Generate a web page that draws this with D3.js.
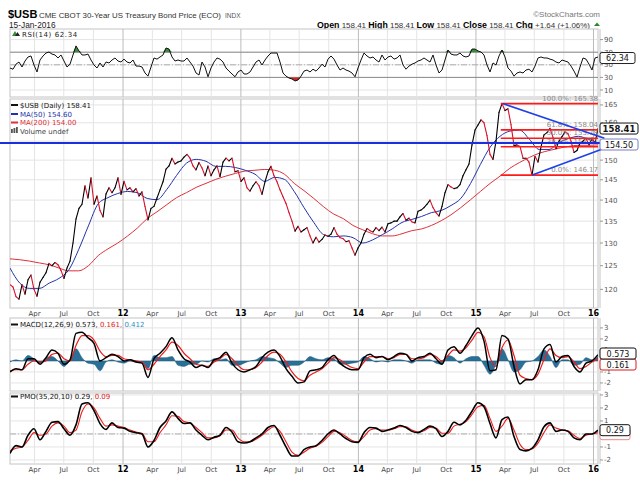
<!DOCTYPE html>
<html>
<head>
<meta charset="utf-8">
<script src="https://d3js.org/d3.v7.min.js"></script>
<style>
  body { margin: 0; background: #fff; }
  text { font-family: "DejaVu Sans", Verdana, sans-serif; }
  .hd { font-family: "Liberation Sans", Arial, sans-serif; }
</style>
</head>
<body>
<svg id="chart" width="640" height="490"></svg>
<script>
// ---- data ----
// price closes, evenly spaced 15-Jan-2011 .. 15-Jan-2016
const priceVals = [
  121.0,120.5,118.5,118.0,121.0,119.0,122.0,123.0,120.0,118.6,
  121.5,122.5,123.5,125.5,125.0,125.7,125.2,124.0,122.3,124.5,
  126.0,130.0,135.5,138.0,139.0,143.5,140.5,145.5,139.0,141.0,
  137.5,136.0,141.5,143.0,141.8,143.0,145.5,141.4,144.6,142.5,
  143.0,142.0,142.8,141.0,142.0,138.5,135.3,138.0,138.5,140.5,
  142.5,144.5,147.7,148.5,150.5,149.0,149.5,149.8,150.8,151.5,
  150.5,148.5,147.5,149.4,148.0,146.0,148.5,146.0,147.5,148.5,
  145.8,149.5,150.5,149.8,150.5,147.0,147.3,144.6,145.5,143.0,
  142.2,143.5,144.5,143.5,141.4,144.5,147.0,148.4,146.0,144.5,
  142.5,140.8,139.2,137.0,135.0,132.7,133.8,132.5,133.0,133.5,
  131.6,130.0,131.3,130.2,130.8,131.8,131.5,132.0,133.5,132.0,
  131.2,131.0,130.3,130.5,128.9,127.3,128.9,130.0,132.0,133.3,
  132.8,132.5,133.5,132.8,133.6,132.5,134.4,134.6,135.0,135.0,
  136.0,136.8,135.2,135.7,134.8,134.6,137.3,137.6,138.2,139.0,
  140.0,138.2,137.0,136.2,138.5,141.8,143.8,143.2,142.8,143.0,
  143.8,146.0,147.5,149.0,154.0,158.0,159.4,160.8,160.0,156.5,
  151.5,150.2,155.0,162.9,165.38,163.4,163.9,159.5,153.8,154.0,
  153.6,150.5,150.5,149.5,146.17,151.0,149.5,153.5,156.7,157.3,
  158.5,156.0,153.0,155.0,156.2,157.5,157.0,155.0,152.0,152.5,
  154.5,155.0,155.8,154.0,155.8,154.5,158.41
];
// monthly moving averages
const ma50Vals = [
  124.5,121.3,120.2,120.2,121.3,122.3,124.1,128.5,133.9,139.1,
  140.6,141.6,142.1,141.8,140.4,140.1,142.6,146.1,149.2,150.2,
  149.7,148.4,148.4,148.1,147.4,146.4,144.6,145.6,145.1,142.1,
  138.2,134.7,131.9,131.4,131.6,131.2,130.0,130.7,131.9,133.2,
  134.7,135.4,136.1,137.0,137.5,138.7,140.4,144.1,148.9,153.4,
  156.3,157.7,158.0,155.5,152.8,152.8,154.6,155.7,156.3,155.5,
  154.6
];
const ma200Vals = [
  126.5,126.3,126.0,125.6,125.2,124.5,123.9,123.9,125.0,127.2,
  128.7,130.0,131.6,133.4,135.6,137.2,138.9,140.6,141.8,143.1,
  144.1,145.1,145.9,146.6,147.2,147.4,147.6,147.4,146.4,144.1,
  142.3,140.4,138.4,136.7,135.6,134.0,133.0,132.1,131.6,131.6,
  132.1,132.8,133.2,134.0,135.1,136.5,138.2,140.1,142.1,144.1,
  145.9,147.9,149.4,150.7,151.8,152.5,153.1,153.6,153.9,153.9,
  154.0
];
const rsiVals = [
  44.9,43,51,54.4,46.5,56,62.4,64,49.7,38.6,
  57.6,64,68.7,70.3,67,65.6,60.8,65.6,56,46.5,
  51,65.6,80,72,65.6,65.6,67,57.6,49.7,44.9,
  52.9,46.5,54.4,52.9,57.6,60.8,56,54.4,59,54.4,
  52.9,57.6,48,48,46.5,37,32,46.5,60.8,59,
  62.4,65.6,76.7,75,62.4,56,57.6,56,56,60.8,
  54.4,48,37,33.8,54.4,46.5,31,44.9,54.4,60.8,
  59,54.4,44.9,40,35.4,31,38.6,41.7,35.4,35.4,
  38.6,46.5,54.4,57.6,49.7,57.6,64,68.7,68.7,68.7,
  54.4,37,32,29,27.5,24.3,25.9,32,40,41.7,
  38.6,43,40,44.9,51,46.5,59,64,59,49.7,
  41.7,44.9,41.7,40,37,31,44.9,57.6,68.7,64,
  60.8,62.4,57.6,54.4,65.6,57.6,62.4,64,59,60.8,
  65.6,49.7,43,48,51,52.9,56,57.6,60.8,57.6,
  54.4,65.6,49.7,37,41.7,57.6,73.5,67,65.6,65.6,
  68.7,64,62.4,64,75,75,72,70.3,65.6,49.7,
  38.6,52.9,49.7,64,73.5,62.4,44.9,40,32,37,
  38.6,37,41.7,43,38.6,48,60.8,62.4,60.8,60.8,
  59,57.6,54.4,52.9,57.6,56,54.4,48,40,30.6,
  46.5,60.8,59,51,41.7,60.8,62.34
];
const macdVals = [
  -1.0,-0.7,-0.8,0.2,0.2,-0.3,0.3,1.0,0.7,-0.3,
  0.1,2.5,2.6,2.1,1.6,0.0,0.3,0.6,0.4,0.0,
  0.1,-0.1,-0.2,-1.5,0.2,0.7,1.3,2.1,1.0,0.2,
  -0.1,-0.6,-0.4,-0.6,0.1,0.3,0.8,-0.2,-0.8,-1.0,
  -0.8,-0.5,0.3,0.8,1.0,0.4,-0.7,-1.4,-2.0,-1.9,
  -0.9,-0.8,-0.6,0.1,0.5,-0.2,-0.6,-0.8,-0.8,0.3,
  0.6,0.3,0.4,0.1,0.4,0.7,0.6,0.0,0.3,0.4,
  0.7,0.2,-0.3,1.0,1.3,0.7,1.4,2.3,3.0,1.8,
  -0.9,-0.8,2.3,2.0,-0.5,-2.1,-1.7,-1.7,-0.8,1.1,
  1.5,-0.1,0.4,0.5,-0.5,-1.0,-0.2,0.0,0.573
];
const macdSignalVals = [
  -0.9,-0.8,-0.8,-0.3,0.0,-0.1,0.0,0.6,0.7,0.2,
  0.0,1.4,2.3,2.3,1.9,0.9,0.4,0.5,0.5,0.2,
  0.1,0.0,-0.1,-0.8,-0.3,0.4,1.0,1.7,1.4,0.7,
  0.2,-0.3,-0.4,-0.5,-0.1,0.2,0.6,0.2,-0.4,-0.8,
  -0.8,-0.6,-0.1,0.5,0.8,0.6,-0.1,-1.0,-1.6,-1.8,
  -1.3,-1.0,-0.7,-0.2,0.3,0.1,-0.3,-0.6,-0.7,-0.1,
  0.4,0.4,0.4,0.2,0.3,0.6,0.6,0.2,0.2,0.3,
  0.6,0.4,0.0,0.5,1.0,0.9,1.2,1.9,2.6,2.2,
  0.3,-0.5,1.2,1.9,0.5,-1.3,-1.6,-1.7,-1.2,0.1,
  1.1,0.5,0.3,0.4,-0.1,-0.7,-0.5,-0.1,0.161
];
const pmoVals = [
  -1.5,-0.9,-1.0,-0.1,0.4,-0.45,0.2,0.9,0.95,0.4,
  -0.1,0.7,2.3,2.4,1.8,0.8,0.35,0.85,0.5,0.45,
  0.2,0.1,0.0,-1.0,-0.5,0.5,1.0,1.7,1.2,0.8,
  0.85,0.3,-0.1,-0.45,-0.25,-0.1,0.5,0.15,-0.6,-0.7,
  -0.6,-0.3,0.0,0.5,0.65,-0.1,-1.0,-1.7,-1.7,-1.2,
  -1.0,-0.9,-0.5,0.0,0.3,0.0,-0.35,-0.6,-0.65,0.1,
  0.5,0.45,0.2,0.3,0.45,0.65,0.5,0.2,0.1,0.35,
  0.6,0.4,-0.2,0.2,0.9,0.7,1.05,1.75,2.4,2.1,
  0.8,-0.3,1.1,1.3,-0.2,-1.2,-1.3,-1.1,-0.45,0.55,
  0.85,0.2,0.3,0.2,-0.3,-0.45,0.0,0.0,0.29
];
const pmoSignalVals = [
  -1.3,-1.1,-1.0,-0.5,0.1,-0.1,0.0,0.6,0.85,0.6,
  0.1,0.3,1.7,2.3,2.0,1.2,0.6,0.7,0.6,0.5,
  0.3,0.15,0.05,-0.6,-0.6,0.1,0.7,1.4,1.35,0.95,
  0.85,0.5,0.1,-0.3,-0.3,-0.15,0.3,0.3,-0.3,-0.6,
  -0.6,-0.4,-0.1,0.3,0.55,0.2,-0.6,-1.4,-1.65,-1.4,
  -1.1,-0.95,-0.65,-0.2,0.2,0.1,-0.2,-0.5,-0.6,-0.2,
  0.3,0.4,0.3,0.3,0.4,0.55,0.55,0.3,0.15,0.25,
  0.5,0.45,0.05,0.05,0.6,0.75,0.95,1.5,2.1,2.2,
  1.2,0.2,0.6,1.2,0.3,-0.8,-1.2,-1.15,-0.7,0.1,
  0.7,0.45,0.3,0.25,-0.1,-0.35,-0.1,0.0,0.09
];
// annotations
const fibLabels = ["100.0%", "61.8%", "50.0%", "38.2%", "0.0%"];
const fibVals = [165.38, 158.04, 155.78, 153.51, 146.17];
const fibStart = "2015-03-19";
const triFrom = [["2015-03-25", 165.38], ["2015-06-25", 146.17]];
const triTo = [["2016-02-04", 155.8], ["2016-02-04", 153.1]];
const hLineVal = 154.50;
const mainTicks = [120, 125, 130, 135, 140, 145, 150, 155, 160, 165];
const rsiTicks = [10, 30, 50, 70, 90];
const macdTicks = [-2, -1, 0, 1, 2, 3];
const pmoTicks = [-2, -1, 0, 1, 2, 3];

// ---- layout ----
const svg = d3.select("#chart");
const xL = 10, xR = 598;
const t0 = new Date(2011, 0, 15), t1 = new Date(2016, 0, 15);
const grid = n => d3.range(n).map(i => new Date(+t0 + (t1 - t0) * i / (n - 1)));
const x = d3.scaleTime().domain([t0, t1]).range([xL, xR]);
const parse = d3.timeParse("%Y-%m-%d");

const P = {
  rsi: { top: 29, bottom: 97 },
  main: { top: 99, bottom: 308 },
  macd: { top: 318, bottom: 391 },
  pmo: { top: 393, bottom: 464 }
};
const yRsi = d3.scaleLinear().domain([0, 100]).range([96.3, 33.3]);
const yMain = d3.scaleLog().domain([116.2, 166.7]).range([308, 99]);
const yMacd = d3.scaleLinear().domain([-2.73, 3.9]).range([391, 318]);
const yPmo = d3.scaleLinear().domain([-2.31, 3.15]).range([464, 393]);

const quarters = d3.timeMonths(t0, t1).filter(d => d.getMonth() % 3 === 0);

// panel frame, grid, right axis; `hidden` = tick labels covered by value boxes
function panel(name, p, y, ticks, hidden) {
  const g = svg.append("g");
  g.append("rect").attr("x", xL).attr("y", p.top).attr("width", xR - xL)
    .attr("height", p.bottom - p.top).attr("fill", "#fff").attr("stroke", "#c4c4c4");
  g.selectAll(null).data(ticks).join("line")
    .attr("x1", xL).attr("x2", xR).attr("y1", d => y(d)).attr("y2", d => y(d))
    .attr("stroke", "#e4e4e4");
  g.selectAll(null).data(quarters).join("line")
    .attr("x1", d => x(d)).attr("x2", d => x(d)).attr("y1", p.top).attr("y2", p.bottom)
    .attr("stroke", d => d.getMonth() === 0 ? "#bcbcbc" : "#e4e4e4");
  g.append("line").attr("x1", xR + 2).attr("x2", xR + 2).attr("y1", p.top).attr("y2", p.bottom)
    .attr("stroke", "#c4c4c4");
  g.selectAll(null).data(ticks).join("line")
    .attr("x1", xR + 2).attr("x2", xR + 5).attr("y1", d => y(d)).attr("y2", d => y(d))
    .attr("stroke", "#999");
  g.selectAll(null).data(ticks.filter(t => !hidden.includes(t))).join("text")
    .attr("x", xR + 6).attr("y", d => y(d) + 2.5).attr("font-size", 7)
    .attr("fill", "#555").text(d => d);
  svg.append("clipPath").attr("id", "clip-" + name).append("rect")
    .attr("x", xL).attr("y", p.top).attr("width", xR - xL).attr("height", p.bottom - p.top);
  return svg.append("g").attr("clip-path", `url(#clip-${name})`);
}

function xLabels(yPos) {
  svg.append("g").selectAll(null).data(quarters).join("text")
    .attr("x", d => x(d)).attr("y", yPos).attr("text-anchor", "middle")
    .attr("font-size", d => d.getMonth() === 0 ? 8 : 7)
    .attr("font-weight", d => d.getMonth() === 0 ? "bold" : "normal")
    .attr("fill", d => d.getMonth() === 0 ? "#000" : "#444")
    .text(d => d.getMonth() === 0 ? d3.timeFormat("%y")(d) : d3.timeFormat("%b")(d));
}

function valueBox(yc, txt, stroke, w, bold) {
  const g = svg.append("g");
  g.append("rect").attr("x", 600).attr("y", yc - 5.5).attr("width", w).attr("height", 11)
    .attr("rx", 2).attr("fill", "#fff").attr("stroke", stroke);
  if (txt) g.append("text").attr("x", 600 + w / 2).attr("y", yc + 3).attr("text-anchor", "middle")
    .attr("font-size", bold ? 8.5 : 8).attr("font-weight", bold ? "bold" : "normal")
    .attr("fill", "#111").text(txt);
}

function legendLine(xp, yp, color) {
  svg.append("line").attr("x1", xp).attr("x2", xp + 7).attr("y1", yp).attr("y2", yp)
    .attr("stroke", color).attr("stroke-width", 2);
}

const pts = (vals) => { const d = grid(vals.length); return vals.map((v, i) => [d[i], v]); };

// ---- header ----
svg.append("text").attr("class", "hd").attr("x", 8).attr("y", 18).attr("font-size", 11)
  .attr("font-weight", "bold").text("$USB");
svg.append("text").attr("class", "hd").attr("x", 39).attr("y", 18).attr("font-size", 8)
  .attr("textLength", 182).attr("lengthAdjust", "spacingAndGlyphs")
  .attr("fill", "#333").text("CME CBOT 30-Year US Treasury Bond Price (ECO)");
svg.append("text").attr("class", "hd").attr("x", 225).attr("y", 18).attr("font-size", 6.5)
  .attr("fill", "#555").text("INDX");
svg.append("text").attr("class", "hd").attr("x", 9).attr("y", 27.5).attr("font-size", 8.3)
  .attr("fill", "#222").text("15-Jan-2016");
svg.append("text").attr("class", "hd").attr("x", 600).attr("y", 16.5).attr("font-size", 8)
  .attr("text-anchor", "end").attr("fill", "#777").text("\u00A9StockCharts.com");
const ohlc = svg.append("text").attr("class", "hd").attr("x", 317).attr("y", 27.5)
  .attr("font-size", 8.6).attr("textLength", 273).attr("lengthAdjust", "spacingAndGlyphs")
  .attr("fill", "#222");
[["Open", " 158.41  "], ["High", " 158.41  "], ["Low", " 158.41  "], ["Close", " 158.41  "], ["Chg", " +1.64 (+1.06%)"]]
  .forEach(([k, v]) => {
    ohlc.append("tspan").attr("font-weight", "bold").attr("fill", "#000").text(k);
    ohlc.append("tspan").attr("font-size", 7.8).attr("fill", "#333").text(v);
  });
svg.append("path").attr("d", "M594,26 L600,26 L597,22.5 Z").attr("fill", "#2a8a2a");

// ---- RSI panel ----
const gR = panel("rsi", P.rsi, yRsi, rsiTicks, []);
[30, 70].forEach(v => gR.append("line").attr("x1", xL).attr("x2", xR)
  .attr("y1", yRsi(v)).attr("y2", yRsi(v)).attr("stroke", "#8a8a8a"));
gR.append("line").attr("x1", xL).attr("x2", xR).attr("y1", yRsi(50)).attr("y2", yRsi(50))
  .attr("stroke", "#b0b0b0").attr("stroke-dasharray", "6,2,1,2");
const rsiPts = pts(rsiVals);
gR.append("path").datum(rsiPts).attr("fill", "#3d8c3d")
  .attr("d", d3.area().x(d => x(d[0])).y0(yRsi(70)).y1(d => yRsi(Math.max(70, d[1]))));
gR.append("path").datum(rsiPts).attr("fill", "#c62828")
  .attr("d", d3.area().x(d => x(d[0])).y0(yRsi(30)).y1(d => yRsi(Math.min(30, d[1]))));
gR.append("path").datum(rsiPts).attr("fill", "none").attr("stroke", "#111").attr("stroke-width", 1)
  .attr("d", d3.line().x(d => x(d[0])).y(d => yRsi(d[1])));
svg.append("path").attr("d", "M12,36 L15,31 L18,36 Z").attr("fill", "#3d8c3d");
svg.append("path").attr("d", "M15,36 L17.5,32 L20,36 Z").attr("fill", "#222");
svg.append("text").attr("x", 22).attr("y", 36.5).attr("font-size", 7).attr("letter-spacing", 0.6)
  .attr("fill", "#222").text("RSI(14) 62.34");
valueBox(yRsi(62.34) + 1, "62.34", "#222", 35, false);

// ---- main panel ----
const gM = panel("main", P.main, yMain, mainTicks, [155]);
gM.append("path").datum(pts(ma200Vals)).attr("fill", "none").attr("stroke", "#e0303a")
  .attr("stroke-width", 1).attr("d", d3.line().curve(d3.curveMonotoneX).x(d => x(d[0])).y(d => yMain(d[1])));
gM.append("path").datum(pts(ma50Vals)).attr("fill", "none").attr("stroke", "#2233aa")
  .attr("stroke-width", 1).attr("d", d3.line().curve(d3.curveMonotoneX).x(d => x(d[0])).y(d => yMain(d[1])));
const pricePts = pts(priceVals);
gM.selectAll(null).data(d3.pairs(pricePts)).join("line")
  .attr("x1", d => x(d[0][0])).attr("y1", d => yMain(d[0][1]))
  .attr("x2", d => x(d[1][0])).attr("y2", d => yMain(d[1][1]))
  .attr("stroke", d => d[1][1] >= d[0][1] ? "#000" : "#d8102a")
  .attr("stroke-width", 1.1).attr("stroke-linecap", "round");

// fibonacci retracement
const fx0 = x(parse(fibStart));
fibVals.forEach((v, i) => {
  svg.append("line").attr("x1", fx0).attr("x2", xR).attr("y1", yMain(v)).attr("y2", yMain(v))
    .attr("stroke", "#ff1a1a").attr("stroke-width", 1.6);
  svg.append("text").attr("x", xR).attr("y", yMain(v) - 3).attr("text-anchor", "end")
    .attr("font-size", 7).attr("fill", "#8a8a8a").text(`${fibLabels[i]}: ${v.toFixed(2)}`);
});
// triangle + horizontal line
triFrom.forEach((a, i) => {
  const b = triTo[i];
  svg.append("line").attr("x1", x(parse(a[0]))).attr("y1", yMain(a[1]))
    .attr("x2", x(parse(b[0]))).attr("y2", yMain(b[1]))
    .attr("stroke", "#1f3fe8").attr("stroke-width", 1.6);
});
svg.append("line").attr("x1", 0).attr("x2", 604).attr("y1", yMain(hLineVal)).attr("y2", yMain(hLineVal))
  .attr("stroke", "#1a2fe0").attr("stroke-width", 2);

// legend
legendLine(11, 105, "#111");
svg.append("text").attr("x", 20).attr("y", 107.5).attr("font-size", 7).attr("fill", "#111").text("$USB (Daily) 158.41");
legendLine(11, 114, "#2233aa");
svg.append("text").attr("x", 20).attr("y", 116.5).attr("font-size", 7).attr("fill", "#2233aa").text("MA(50) 154.60");
legendLine(11, 122.5, "#e0303a");
svg.append("text").attr("x", 20).attr("y", 125).attr("font-size", 7).attr("fill", "#e0303a").text("MA(200) 154.00");
[0, 2.5, 5].forEach((o, i) => svg.append("rect").attr("x", 11 + o).attr("y", 129 - i).attr("width", 1.8)
  .attr("height", 4 + i).attr("fill", "#555"));
svg.append("text").attr("x", 20).attr("y", 133.5).attr("font-size", 7).attr("fill", "#444").text("Volume undef");

valueBox(yMain(158.41), "158.41", "#111", 38, true);
valueBox(yMain(hLineVal) + 1.5, "154.50", "#7a7fc0", 38, false);
xLabels(316);

// ---- MACD panel ----
const gC = panel("macd", P.macd, yMacd, macdTicks, [0]);
const macdPts = pts(macdVals);
const sigPts = pts(macdSignalVals);
const histPts = macdPts.map((d, i) => [d[0], d[1] - sigPts[i][1]]);
gC.append("path").datum(histPts).attr("fill", "#2a6f97").attr("stroke", "#1d5a7d").attr("stroke-width", 0.5)
  .attr("d", d3.area().curve(d3.curveMonotoneX).x(d => x(d[0])).y0(yMacd(0)).y1(d => yMacd(d[1])));
gC.append("path").datum(sigPts).attr("fill", "none").attr("stroke", "#ee1c1c").attr("stroke-width", 1.2)
  .attr("d", d3.line().curve(d3.curveMonotoneX).x(d => x(d[0])).y(d => yMacd(d[1])));
gC.append("path").datum(macdPts).attr("fill", "none").attr("stroke", "#000").attr("stroke-width", 1.5)
  .attr("d", d3.line().curve(d3.curveMonotoneX).x(d => x(d[0])).y(d => yMacd(d[1])));
legendLine(11, 324.5, "#111");
const mt = svg.append("text").attr("x", 20).attr("y", 327).attr("font-size", 7).attr("fill", "#111");
mt.append("tspan").text("MACD(12,26,9) 0.573, ");
mt.append("tspan").attr("fill", "#e01818").text("0.161, ");
mt.append("tspan").attr("fill", "#2a8fc8").text("0.412");
valueBox(364.5, "0.161", "#e01818", 36, false);
valueBox(353.5, "0.573", "#111", 36, false);

// ---- PMO panel ----
const gP = panel("pmo", P.pmo, yPmo, pmoTicks, [0]);
gP.append("line").attr("x1", xL).attr("x2", xR).attr("y1", yPmo(0)).attr("y2", yPmo(0))
  .attr("stroke", "#b0b0b0").attr("stroke-dasharray", "6,2,1,2");
gP.append("path").datum(pts(pmoSignalVals)).attr("fill", "none").attr("stroke", "#ee1c1c").attr("stroke-width", 1.1)
  .attr("d", d3.line().curve(d3.curveMonotoneX).x(d => x(d[0])).y(d => yPmo(d[1])));
gP.append("path").datum(pts(pmoVals)).attr("fill", "none").attr("stroke", "#000").attr("stroke-width", 1.6)
  .attr("d", d3.line().curve(d3.curveMonotoneX).x(d => x(d[0])).y(d => yPmo(d[1])));
legendLine(11, 396.5, "#111");
const pt = svg.append("text").attr("x", 20).attr("y", 399).attr("font-size", 7).attr("fill", "#111");
pt.append("tspan").text("PMO(35,20,10) 0.29, ");
pt.append("tspan").attr("fill", "#e01818").text("0.09");
valueBox(yPmo(0.29) + 4, "", "#e88", 30, false);
valueBox(yPmo(0.29), "0.29", "#111", 30, false);
xLabels(472);
</script>
</body>
</html>
